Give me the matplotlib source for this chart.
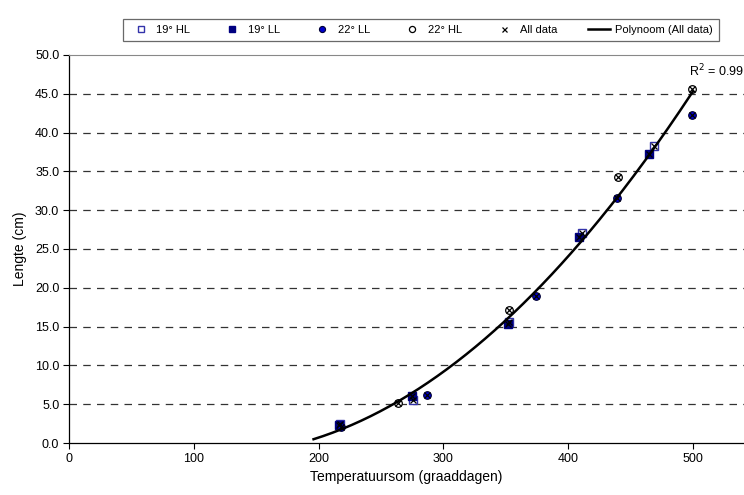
import numpy as np
import matplotlib.pyplot as plt
from matplotlib import font_manager

# Groeidata: lengte tegen temperatuursom
hl19_x = [217, 276, 353, 411, 469]
hl19_y = [2.5, 5.5, 15.6, 27.0, 38.3]
ll19_x = [216, 275, 352, 409, 465]
ll19_y = [2.3, 6.1, 15.3, 26.5, 37.2]
ll22_x = [218, 287, 374, 439, 499]
ll22_y = [2.1, 6.2, 19.0, 31.6, 42.3]
hl22_x = [264, 353, 440, 499]
hl22_y = [5.2, 17.1, 34.3, 45.6]

all_x = np.array(hl19_x + ll19_x + ll22_x + hl22_x, dtype=float)
all_y = np.array(hl19_y + ll19_y + ll22_y + hl22_y, dtype=float)

coef = np.polyfit(all_x, all_y, 2)
fit_x = np.linspace(196, 500, 200)
fit_y = np.polyval(coef, fit_x)

names = [f.name for f in font_manager.fontManager.ttflist]
narrow = 'Liberation Sans Narrow' if 'Liberation Sans Narrow' in names else 'Liberation Sans'
plt.rcParams['font.family'] = ['Liberation Sans', 'DejaVu Sans']

fig = plt.figure(figsize=(7.44, 4.95), dpi=100)
ax = fig.add_axes([69/744, 1 - 443/495, 1 - 69/744, (443 - 55)/495])

for yv in np.arange(5, 50, 5):
    ax.axhline(yv, color='#333333', lw=0.9, dashes=(6, 5), zorder=0)

h1, = ax.plot(hl19_x, hl19_y, 's', ms=5.5, mfc='white', mec='#3333aa', mew=1.0, ls='none')
h2, = ax.plot(ll19_x, ll19_y, 's', ms=5.5, mfc='#000080', mec='#000080', ls='none')
h3, = ax.plot(ll22_x, ll22_y, 'o', ms=5.5, mfc='#0000cc', mec='#000033', mew=0.8, ls='none')
h4, = ax.plot(hl22_x, hl22_y, 'o', ms=5.5, mfc='white', mec='black', mew=0.9, ls='none')
h5, = ax.plot(all_x, all_y, 'x', ms=4.5, color='black', mew=0.9, ls='none')
h6, = ax.plot(fit_x, fit_y, color='black', lw=1.8)

ax.set_xlim(0, 541)
ax.set_ylim(0, 50)
ax.set_xticks([0, 100, 200, 300, 400, 500])
ax.set_yticks(np.arange(0, 51, 5))
ax.set_yticklabels([f'{v:.1f}' for v in np.arange(0, 51, 5)])
ax.tick_params(labelsize=9, direction='out', length=4, width=0.8, pad=3)
ax.set_xlabel('Temperatuursom (graaddagen)', fontsize=10, labelpad=4)
ax.set_ylabel('Lengte (cm)', fontsize=10, labelpad=6)
ax.spines['right'].set_visible(False)
ax.spines['top'].set_color('#888888')
ax.spines['left'].set_linewidth(0.9)
ax.spines['bottom'].set_linewidth(0.9)

ax.text(497, 46.9, 'R$^2$ = 0.99', fontsize=9, ha='left', va='bottom')

leg = fig.legend([h1, h2, h3, h4, h5, h6],
                 ['19° HL', '19° LL', '22° LL', '22° HL', 'All data', 'Polynoom (All data)'],
                 loc='center', bbox_to_anchor=(421/744, 1 - 30/495), ncol=6,
                 prop={'family': narrow, 'size': 8}, frameon=True, fancybox=False,
                 edgecolor='#444444', markerscale=0.8, handlelength=2.0,
                 columnspacing=2.8, handletextpad=0.4, borderpad=0.55)
leg.get_frame().set_linewidth(0.9)
# markers only for point entries
for lh in leg.legend_handles[:5]:
    lh.set_linestyle('none')

fig.savefig('out.png', dpi=100)
